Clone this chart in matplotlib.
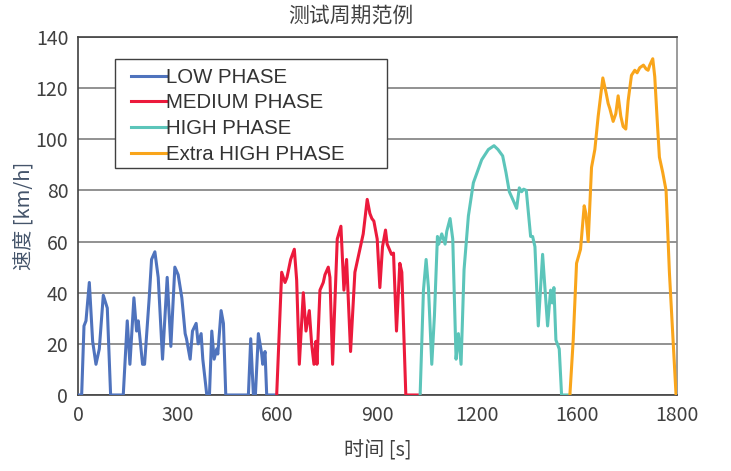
import matplotlib
matplotlib.use('Agg')
import matplotlib.pyplot as plt
from matplotlib.patches import Rectangle

# WLTP-like test cycle (s, km/h)
low_t = [0, 11, 18, 24, 34, 44, 54, 64, 76, 88, 98, 136, 148, 156, 168, 176, 181, 194, 200,
         214, 221, 231, 241, 254, 268, 279, 291, 301, 312, 322, 326, 337, 344, 355, 361, 370,
         375, 387, 395, 402, 409, 417, 420, 430, 437, 444, 512, 519, 527, 533, 542, 552, 555,
         562, 567, 597]
low_v = [0, 0, 27, 29, 44, 21, 12, 18, 39, 34, 0, 0, 29, 12, 38, 25, 29, 12, 12,
         38, 53, 56, 46, 14, 46, 19, 50, 47, 38, 24, 22, 14, 25, 28, 20, 24,
         14, 0, 0, 25, 14, 18, 16, 33, 28, 0, 0, 22, 0, 0, 24, 16, 12,
         17, 0, 0]

med_t = [597, 612, 622, 628, 639, 650, 657, 665, 677, 685, 695, 702, 709, 715, 718, 727, 737,
         742, 752, 757, 765, 779, 790, 799, 807, 819, 832, 847, 857, 869, 877, 883, 889, 899,
         907, 915, 924, 929, 942, 948, 957, 967, 973, 985, 1028]
med_v = [0, 48, 44, 46, 53, 57, 45, 12, 40, 25, 33, 20, 12, 21, 12, 41, 44,
         47, 50, 46, 12, 61, 66, 41, 53, 17, 48, 57, 63, 76.5, 71, 69, 68, 61,
         42, 58, 64.5, 59, 55, 55.5, 25, 51.5, 48, 0, 0]

high_t = [1028, 1038, 1046, 1053, 1063, 1071, 1080, 1084, 1093, 1103, 1108, 1118, 1126, 1136,
          1143, 1151, 1160, 1173, 1188, 1213, 1233, 1250, 1262, 1276, 1286, 1296, 1308, 1318,
          1326, 1333, 1339, 1347, 1360, 1366, 1373, 1383, 1396, 1411, 1420, 1425, 1430, 1436,
          1446, 1453, 1478]
high_v = [0, 41, 53, 42, 12, 31, 62, 59, 63, 59, 64, 69, 61, 14,
          24, 12, 49, 70, 83, 92, 96, 97.5, 96, 93.5, 87, 79.5, 76, 73,
          81, 79.5, 80.5, 80, 62, 62, 58, 27, 55, 27, 41, 36, 42, 21.5,
          18, 0, 0]

xhigh_t = [1478, 1488, 1498, 1510, 1521, 1526, 1533, 1543, 1553, 1563, 1577, 1587, 1593, 1598,
           1608, 1616, 1623, 1631, 1638, 1646, 1653, 1663, 1673, 1680, 1688, 1699, 1707, 1713,
           1718, 1727, 1733, 1741, 1747, 1757, 1767, 1777, 1788, 1797, 1800]
xhigh_v = [0, 21.5, 51.5, 57, 74, 71, 60, 89, 96, 109, 124, 118, 114, 112,
           107, 110, 117, 109, 105, 104, 115, 125, 127, 126, 128, 129, 127.5, 127,
           129, 131.5, 124.5, 106, 93, 87, 80, 48, 21.5, 0, 0]

phase_names = ['LOW PHASE', 'MEDIUM PHASE', 'HIGH PHASE', 'Extra HIGH PHASE']
phase_colors = ['#4f73bd', '#ec1a3c', '#5cc5ba', '#f9a51b']

x_ticks = [0, 300, 600, 900, 1200, 1500, 1800]
x_tick_labels = ['0', '300', '600', '900', '1200', '1600', '1800']
y_ticks = [0, 20, 40, 60, 80, 100, 120, 140]

plt.rcParams['font.family'] = ['Noto Sans CJK SC', 'DejaVu Sans']
plt.rcParams['font.weight'] = 'light'
text_col = '#404040'

fig = plt.figure(figsize=(7.31, 4.71), dpi=100)
ax = fig.add_axes([0.1067, 0.1614, 0.8195, 0.76])

series = [(low_t, low_v), (med_t, med_v), (high_t, high_v), (xhigh_t, xhigh_v)]
for (t, v), name, col in zip(series, phase_names, phase_colors):
    ax.plot(t, v, color=col, lw=2.2, label=name, solid_joinstyle='round', zorder=3)

ax.set_xlim(0, 1800)
ax.set_ylim(0, 140)
ax.set_xticks(x_ticks)
ax.set_xticklabels(x_tick_labels)
ax.set_yticks(y_ticks)
ax.tick_params(length=0, labelsize=14, colors=text_col, pad=7)
ax.grid(axis='y', color='#7f7f7f', lw=1.2)
ax.set_axisbelow(True)
for side in ['left', 'bottom', 'top']:
    ax.spines[side].set_color('#404040')
    ax.spines[side].set_linewidth(1.2)
ax.spines['right'].set_color('#8a8a8a')
ax.spines['right'].set_linewidth(1.2)

ax.set_xlabel('时间 [s]', fontsize=14.5, color=text_col, labelpad=11)
ax.set_ylabel('速度 [km/h]', fontsize=14.5, color='#44546a', labelpad=1)
fig.text(0.48, 0.966, '测试周期范例', fontsize=15, color=text_col,
         ha='center', va='center')

# legend box drawn separately so its size matches the reference
ax.add_patch(Rectangle((0.0618, 0.634), 0.4541, 0.3045, transform=ax.transAxes,
                       facecolor='white', edgecolor='#404040', lw=1.0, zorder=4))
leg = ax.legend(loc='upper left', bbox_to_anchor=(0.0885, 0.9144),
                borderaxespad=0, frameon=False, handlelength=1.7, handletextpad=0.0,
                labelspacing=0.33, borderpad=0,
                prop={'family': 'Liberation Sans', 'size': 14.7, 'weight': 'normal'})
leg.set_zorder(5)
for txt in leg.get_texts():
    txt.set_color('#333333')

fig.savefig('out.png', dpi=100)
